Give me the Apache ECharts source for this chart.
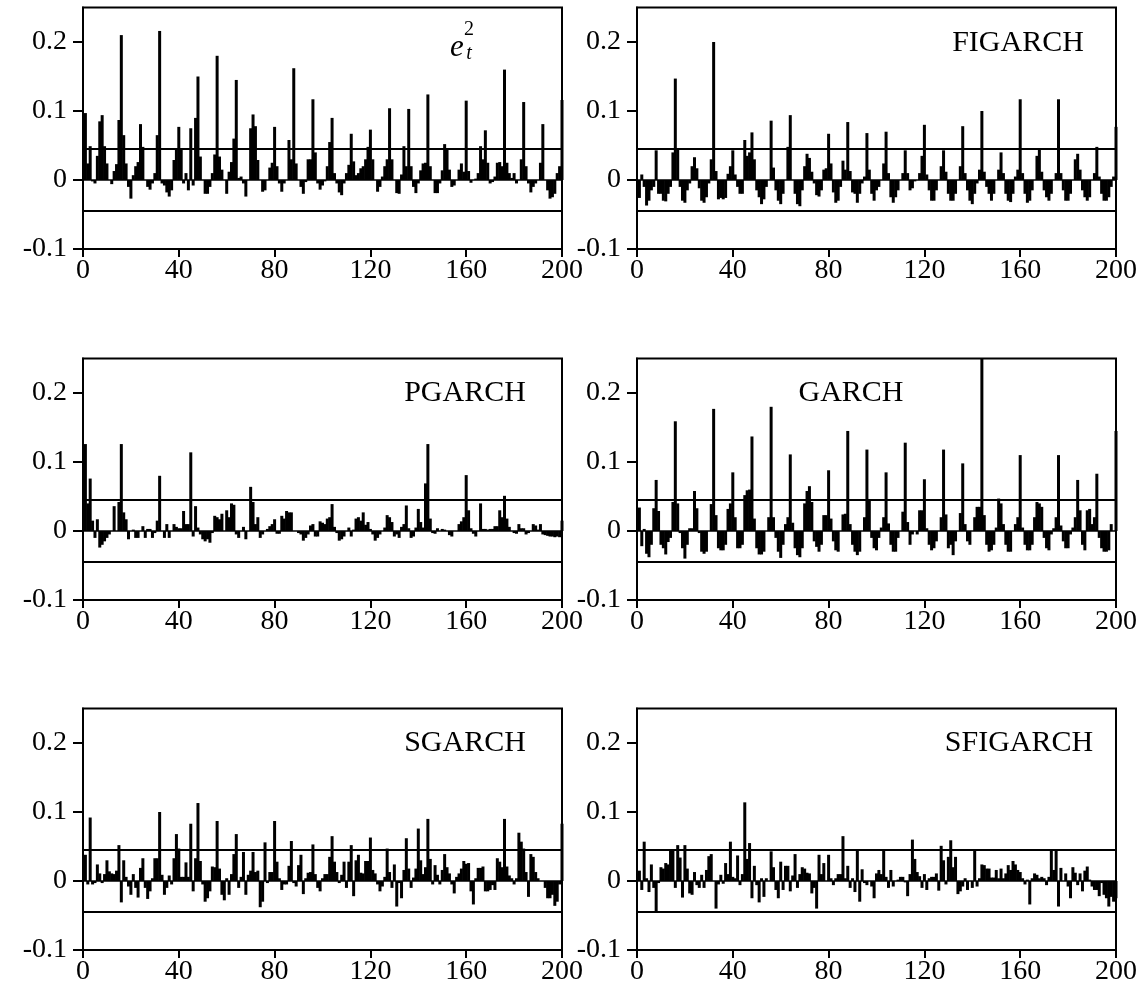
<!DOCTYPE html>
<html>
<head>
<meta charset="utf-8">
<script src="https://cdn.jsdelivr.net/npm/echarts@6/dist/echarts.min.js"></script>
<style>
html,body{margin:0;padding:0;background:#fff;}
#chart{width:1140px;height:1000px;}
</style>
</head>
<body>
<div id="chart"></div>
<script>
// ---- data (autocorrelations, lags 1..200) ----
const panelTitles = ["e_t^2", "FIGARCH", "PGARCH", "GARCH", "SGARCH", "SFIGARCH"];
const xTicks = [0, 40, 80, 120, 160, 200];
const yTicks = [-0.1, 0, 0.1, 0.2];
const bandLevel = 0.045;

const acfE2 = [0.097,0.024,0.049,-0.002,-0.005,0.035,0.085,0.094,0.049,0.024,0.0,-0.006,0.013,0.023,0.087,0.21,0.065,0.024,-0.01,-0.027,
0.007,0.02,0.026,0.081,0.048,0.0,-0.01,-0.014,-0.005,0.01,0.065,0.216,-0.005,-0.008,-0.018,-0.024,-0.015,0.029,0.045,0.077,
0.045,-0.005,0.01,-0.015,0.075,-0.008,0.09,0.15,0.034,0.0,-0.02,-0.02,-0.01,0.01,0.037,0.18,0.034,0.015,0.0,-0.02,
0.012,0.026,0.06,0.145,0.003,0.005,-0.005,-0.024,0.0,0.075,0.095,0.078,0.029,0.0,-0.017,-0.015,0.0,0.018,0.025,0.077,
0.02,-0.005,-0.017,-0.005,0.0,0.058,0.03,0.162,0.024,0.0,-0.01,-0.02,-0.003,0.03,0.03,0.117,0.04,-0.005,-0.014,-0.008,
-0.002,0.02,0.055,0.09,0.01,-0.005,-0.018,-0.022,-0.005,0.01,0.022,0.067,0.027,0.007,0.01,0.017,0.02,0.03,0.048,0.073,
0.03,0.0,-0.017,-0.01,0.005,0.02,0.03,0.104,0.03,0.0,-0.019,-0.02,0.008,0.049,0.02,0.103,0.02,-0.01,-0.019,-0.005,
0.014,0.024,0.025,0.124,0.02,0.0,-0.019,-0.019,-0.005,0.014,0.052,0.045,0.015,-0.01,-0.008,0.0,0.015,0.024,0.012,0.115,
0.013,-0.004,0.0,0.002,0.01,0.049,0.03,0.072,0.025,-0.005,-0.003,0.005,0.025,0.026,0.02,0.16,0.025,0.01,0.003,0.01,
-0.005,0.0,0.03,0.113,0.02,-0.005,-0.018,-0.01,-0.005,0.0,0.025,0.081,0.0,-0.015,-0.027,-0.025,-0.02,0.01,0.02,0.116];

const acfFIGARCH = [-0.026,0.008,-0.01,-0.037,-0.03,-0.015,-0.01,0.043,-0.02,-0.02,-0.03,-0.031,-0.02,-0.01,0.04,0.147,0.045,-0.01,-0.03,-0.033,
-0.015,-0.005,0.02,0.033,0.017,-0.012,-0.03,-0.033,-0.025,-0.005,0.03,0.2,0.013,-0.028,-0.026,-0.028,-0.026,0.009,0.02,0.043,
0.008,-0.01,-0.02,-0.02,0.058,0.035,0.04,0.069,0.03,-0.015,-0.025,-0.035,-0.028,-0.01,0.0,0.086,0.018,-0.015,-0.03,-0.035,
-0.02,0.0,0.048,0.094,0.0,-0.02,-0.035,-0.038,-0.015,0.02,0.038,0.032,0.012,-0.005,-0.022,-0.024,-0.015,0.015,0.017,0.067,
0.024,-0.018,-0.033,-0.03,-0.01,0.028,0.015,0.084,0.013,-0.018,-0.02,-0.033,-0.02,-0.005,0.005,0.068,0.015,-0.02,-0.03,-0.015,
-0.01,0.0,0.024,0.07,0.01,-0.025,-0.033,-0.025,-0.015,0.0,0.01,0.043,0.01,-0.015,-0.012,-0.002,0.0,0.01,0.035,0.08,
0.008,-0.015,-0.03,-0.03,-0.015,0.0,0.02,0.043,0.012,-0.02,-0.03,-0.03,-0.02,0.0,0.02,0.078,0.01,-0.015,-0.03,-0.035,
-0.02,-0.005,0.015,0.1,0.012,-0.01,-0.02,-0.03,-0.02,0.0,0.015,0.04,0.01,-0.02,-0.03,-0.032,-0.02,0.005,0.015,0.117,
0.01,-0.02,-0.033,-0.03,-0.015,0.0,0.035,0.045,0.012,-0.015,-0.025,-0.03,-0.02,0.0,0.01,0.117,0.01,-0.015,-0.03,-0.03,
-0.02,0.0,0.03,0.038,0.015,-0.015,-0.025,-0.03,-0.025,0.0,0.01,0.048,0.005,-0.02,-0.03,-0.03,-0.025,-0.01,0.005,0.077];

const acfPGARCH = [0.126,0.04,0.076,0.015,-0.01,0.017,-0.024,-0.02,-0.015,-0.01,-0.005,0.0,0.036,0.0,0.042,0.126,0.027,0.017,-0.012,0.0,
0.002,-0.01,-0.01,0.0,0.007,-0.01,0.003,0.003,-0.01,-0.003,0.015,0.08,0.0,-0.01,0.01,-0.01,0.0,0.01,0.006,0.004,
0.004,0.029,0.01,0.01,0.114,-0.008,0.036,0.005,-0.005,-0.012,-0.015,-0.012,-0.017,-0.003,0.022,0.02,0.017,0.025,0.0,0.03,
0.02,0.04,0.038,-0.005,-0.01,0.0,0.006,-0.012,0.0,0.064,0.042,0.01,0.02,-0.01,-0.005,0.0,0.003,0.007,0.01,0.017,
-0.004,-0.004,0.022,0.018,0.029,0.027,0.027,0.0,0.0,-0.003,-0.005,-0.014,-0.01,-0.005,0.008,0.01,-0.008,-0.008,0.014,0.012,
0.01,0.018,0.02,0.039,0.006,-0.003,-0.014,-0.012,-0.008,0.0,0.005,-0.008,0.002,0.018,0.02,0.015,0.027,0.009,0.013,0.003,
-0.005,-0.014,-0.01,-0.005,0.0,0.005,0.023,0.02,0.013,-0.008,-0.005,-0.01,0.006,0.01,0.037,0.004,-0.01,-0.008,0.005,0.032,
0.013,0.005,0.069,0.126,0.018,-0.003,-0.004,0.004,0.0,0.003,0.002,0.0,-0.006,-0.008,0.0,0.0,0.01,0.014,0.02,0.081,
0.03,0.004,-0.004,-0.008,0.0,0.04,0.003,0.003,0.002,0.003,0.003,0.007,0.007,0.03,0.02,0.051,0.018,0.006,0.0,-0.003,
-0.004,0.01,0.004,0.004,-0.005,-0.003,0.0,0.01,0.008,0.002,0.01,-0.005,-0.006,-0.007,-0.008,-0.008,-0.009,-0.008,-0.009,0.015];

const acfGARCH = [0.034,-0.022,0.003,-0.033,-0.038,-0.02,0.033,0.074,0.029,-0.02,-0.025,-0.034,-0.016,-0.01,0.042,0.159,0.04,-0.003,-0.025,-0.04,
-0.02,0.004,0.004,0.058,0.033,-0.003,-0.03,-0.033,-0.03,0.0,0.039,0.177,0.023,-0.025,-0.028,-0.028,-0.02,0.032,0.04,0.085,
0.02,-0.025,-0.025,-0.02,0.052,0.059,0.06,0.137,0.018,-0.025,-0.034,-0.034,-0.03,0.0,0.02,0.18,0.02,-0.01,-0.03,-0.039,
-0.02,0.01,0.02,0.111,0.012,-0.025,-0.035,-0.038,-0.025,0.04,0.058,0.065,0.042,-0.015,-0.023,-0.03,-0.02,0.023,0.023,0.088,
0.018,-0.015,-0.028,-0.03,0.0,0.024,0.025,0.145,0.01,-0.02,-0.03,-0.035,-0.03,0.0,0.02,0.118,0.045,-0.01,-0.025,-0.028,
-0.01,0.005,0.02,0.085,0.011,-0.02,-0.03,-0.03,-0.01,0.0,0.028,0.128,0.013,-0.02,-0.005,0.0,-0.005,0.03,0.03,0.075,
0.004,-0.02,-0.028,-0.025,-0.015,0.0,0.02,0.118,0.024,-0.025,-0.02,-0.035,-0.015,0.0,0.026,0.098,0.01,-0.015,-0.02,0.0,
0.02,0.035,0.035,0.27,0.023,-0.02,-0.03,-0.028,-0.02,0.005,0.047,0.04,0.01,-0.02,-0.03,-0.03,0.0,0.01,0.02,0.11,
0.005,-0.02,-0.028,-0.028,-0.02,0.02,0.042,0.04,0.035,-0.01,-0.025,-0.028,-0.005,0.004,0.02,0.11,0.008,-0.015,-0.025,-0.025,
-0.005,0.005,0.02,0.074,0.03,-0.02,-0.028,0.03,0.032,0.01,0.02,0.083,-0.01,-0.025,-0.03,-0.03,-0.028,0.01,0.0,0.145];

const acfSGARCH = [0.038,-0.005,0.092,-0.005,-0.003,0.024,0.011,-0.003,0.01,0.03,0.014,0.011,0.01,0.015,0.052,-0.031,0.03,0.006,-0.008,-0.02,
0.01,-0.01,-0.024,0.019,0.033,-0.01,-0.026,-0.015,0.004,0.033,0.033,0.1,0.009,-0.02,-0.01,0.008,-0.005,0.033,0.068,0.047,
0.006,0.006,0.027,0.006,0.083,-0.015,0.033,0.113,0.029,-0.005,-0.03,-0.025,-0.015,0.021,0.02,0.087,0.018,-0.02,-0.028,0.004,
-0.02,0.01,0.039,0.068,-0.01,0.006,0.042,-0.02,0.009,0.015,0.042,0.013,0.015,-0.038,-0.03,0.056,-0.003,0.013,0.013,0.087,
0.028,0.004,-0.013,-0.005,-0.005,0.022,0.058,-0.003,-0.008,0.023,0.038,-0.019,0.004,0.012,0.013,0.053,0.01,-0.01,-0.015,0.004,
0.01,0.01,0.035,0.065,0.028,0.013,-0.003,0.009,0.028,-0.01,0.028,0.052,-0.022,0.03,0.038,0.012,0.011,0.029,0.029,0.063,
0.016,0.011,-0.005,-0.015,-0.008,0.006,0.047,0.013,-0.01,0.024,-0.037,-0.003,-0.025,0.016,0.062,0.018,-0.01,0.005,0.018,0.076,
0.03,0.01,0.02,0.09,0.032,-0.005,0.023,0.009,-0.005,0.016,0.039,0.02,0.011,-0.005,-0.018,0.006,0.011,0.018,0.029,0.025,
0.026,-0.015,-0.034,0.004,0.019,0.019,0.021,-0.015,-0.015,-0.013,-0.006,-0.013,0.033,0.028,0.02,0.09,0.021,0.008,0.004,-0.005,
0.004,0.07,0.057,0.047,0.013,-0.023,0.039,0.035,0.013,0.004,0.0,0.0,-0.01,-0.025,-0.025,-0.02,-0.036,-0.03,-0.005,0.083];

const acfSFIGARCH = [0.015,-0.013,0.057,0.004,-0.016,0.024,-0.01,-0.044,-0.003,0.02,0.018,0.026,0.024,0.046,0.046,-0.01,0.052,0.034,-0.024,0.052,
0.018,-0.018,-0.02,0.013,-0.006,-0.01,0.009,-0.01,0.016,0.036,0.039,0.0,-0.04,-0.005,0.009,-0.004,0.026,0.01,0.057,0.006,
0.004,0.037,-0.006,0.01,0.114,0.032,0.055,-0.025,0.022,-0.006,-0.031,0.004,-0.023,0.004,0.0,0.043,0.02,-0.013,-0.025,0.028,
-0.013,0.022,0.022,-0.015,0.008,0.039,-0.01,0.01,0.02,0.018,0.012,0.011,-0.018,-0.01,-0.04,0.038,0.01,0.026,0.0,0.038,
0.004,-0.006,0.004,0.01,0.01,0.065,0.004,0.022,-0.01,0.004,-0.016,0.044,-0.03,0.017,-0.003,-0.006,0.0,-0.008,-0.025,0.011,
0.016,0.01,0.046,0.006,-0.01,0.016,-0.008,0.0,0.002,0.006,0.006,-0.002,-0.022,0.01,0.06,0.032,0.013,0.007,-0.01,0.01,
-0.013,0.004,0.006,0.006,0.011,-0.014,0.051,0.03,-0.005,0.035,0.059,0.02,0.035,-0.019,-0.015,-0.008,0.004,-0.013,0.0,-0.01,
0.044,-0.008,0.004,0.024,0.023,0.018,0.018,0.005,0.005,0.016,0.004,0.018,0.004,0.011,0.023,0.016,0.029,0.024,0.016,0.013,
0.004,-0.005,0.002,-0.034,0.004,0.011,0.009,0.004,0.006,0.004,-0.006,0.006,0.044,0.016,0.046,-0.037,0.019,0.0,0.011,-0.008,
-0.025,0.02,0.012,-0.006,0.011,-0.015,0.015,0.021,0.002,-0.008,-0.013,-0.013,-0.022,-0.003,-0.02,-0.025,-0.037,-0.023,-0.03,-0.025];

const seriesValues = [acfE2, acfFIGARCH, acfPGARCH, acfGARCH, acfSGARCH, acfSFIGARCH];
const lags = Array.from({length: 200}, (_, i) => i + 1);

// ---- layout ----
const FONT = 'Liberation Serif';
const gridLefts = [83, 637];
const gridTops = [7.5, 358.5, 708.5];
const GW = 479, GH = 241.5;

const refLine = (p, level, width) => ({type: 'line', xAxisIndex: p, yAxisIndex: p, silent: true,
  symbol: 'none', clip: true, z: 3, lineStyle: {color: '#000', width: width, type: 'solid'},
  data: [[0, level], [200, level]]});

const grids = [], xAxes = [], yAxes = [], series = [];
for (let p = 0; p < 6; p++) {
  const col = p % 2, row = Math.floor(p / 2);
  grids.push({left: gridLefts[col], top: gridTops[row], width: GW, height: GH,
    show: true, borderColor: '#000', borderWidth: 2, backgroundColor: 'transparent', containLabel: false});
  xAxes.push({gridIndex: p, type: 'value', min: 0, max: 200, interval: 40,
    axisLine: {show: true, onZero: false, lineStyle: {color: '#000', width: 2}},
    axisTick: {show: true, inside: false, length: 8, lineStyle: {color: '#000', width: 2}},
    axisLabel: {color: '#000', fontFamily: FONT, fontSize: 28, margin: 8},
    splitLine: {show: false}});
  yAxes.push({gridIndex: p, type: 'value', min: -0.1, max: 0.25,
    axisLine: {show: true, onZero: false, lineStyle: {color: '#000', width: 2}},
    axisTick: {show: true, inside: false, length: 10, lineStyle: {color: '#000', width: 2}, customValues: yTicks},
    axisLabel: {color: '#000', fontFamily: FONT, fontSize: 28, margin: 16, customValues: yTicks,
      formatter: v => (Math.abs(v) < 1e-9 ? '0' : String(Math.round(v * 10) / 10))},
    splitLine: {show: false}});
  series.push({type: 'bar', xAxisIndex: p, yAxisIndex: p, barWidth: 3,
    itemStyle: {color: '#000'}, clip: true, silent: true,
    data: lags.map((l, i) => [l, seriesValues[p][i]])});
  series.push(refLine(p, bandLevel, 2));
  series.push(refLine(p, -bandLevel, 2));
  series.push(refLine(p, 0, 1.5));
}

const titleStyle = (txt, x, y) => ({type: 'text', x: x, y: y, silent: true,
  style: {text: txt, fill: '#000', font: '30px "' + FONT + '"', align: 'center', verticalAlign: 'middle'}});

const graphic = [
  {type: 'text', x: 457, y: 48, silent: true, style: {text: 'e', fill: '#000', font: 'italic 31px "' + FONT + '"', align: 'center', verticalAlign: 'middle'}},
  {type: 'text', x: 469, y: 30, silent: true, style: {text: '2', fill: '#000', font: '20px "' + FONT + '"', align: 'center', verticalAlign: 'middle'}},
  {type: 'text', x: 469, y: 54, silent: true, style: {text: 't', fill: '#000', font: 'italic 20px "' + FONT + '"', align: 'center', verticalAlign: 'middle'}},
  titleStyle(panelTitles[1], 1018, 43),
  titleStyle(panelTitles[2], 465, 393),
  titleStyle(panelTitles[3], 851, 393),
  titleStyle(panelTitles[4], 465, 743),
  titleStyle(panelTitles[5], 1019, 743)
];

const chart = echarts.init(document.getElementById('chart'), null, {renderer: 'canvas'});
chart.setOption({
  animation: false,
  backgroundColor: '#fff',
  grid: grids, xAxis: xAxes, yAxis: yAxes, series: series, graphic: graphic
});
</script>
</body>
</html>
